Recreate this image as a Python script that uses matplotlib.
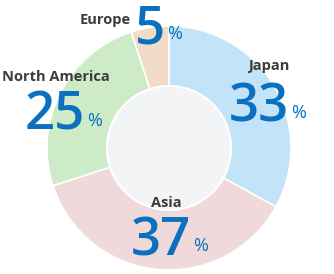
import matplotlib.pyplot as plt
from matplotlib.patches import Circle

# parts par région (%)
regions = ["Japan", "Asia", "North America", "Europe"]
values = [33, 37, 25, 5]
colors = ["#c3e3f8", "#f0d9da", "#cdebc6", "#f0dcc7"]

# position des textes en pixels (x label, y label, x chiffres droite, baseline chiffres)
label_pos = [(269, 66), (166, 203), (56, 77), (105, 20)]
num_pos = [(289, 122), (191, 255), (85, 130), (165, 43)]

W, H = 334, 274
fig = plt.figure(figsize=(W / 100, H / 100), dpi=100)
ax = fig.add_axes([0, 0, 1, 1])

cx, cy, r_out, r_in = 169, H - 148, 122, 62
ax.pie(values, colors=colors, startangle=90, counterclock=False,
       center=(cx, cy), radius=r_out,
       wedgeprops=dict(width=r_out - r_in, edgecolor="white", linewidth=1.2))
ax.add_patch(Circle((cx, cy), r_in, facecolor="#f3f4f6", edgecolor="white", linewidth=1.5))

ax.set_xlim(0, W)
ax.set_ylim(0, H)
ax.set_aspect("equal")
ax.axis("off")

font = ["Open Sans", "DejaVu Sans"]
blue = "#0b70c0"
for reg, v, (lx, ly), (nx, ny) in zip(regions, values, label_pos, num_pos):
    ax.text(lx, H - ly, reg, ha="center", va="center", fontsize=10.5,
            fontweight="bold", color="#3c3c3c", family=font)
    ax.text(nx, H - ny, str(v), ha="right", va="baseline", fontsize=38,
            fontweight="semibold", color=blue, family=font)
    ax.text(nx + 2, H - ny + 4, "%", ha="left", va="baseline", fontsize=13,
            color=blue, family=font)

fig.savefig("out.png", dpi=100)
